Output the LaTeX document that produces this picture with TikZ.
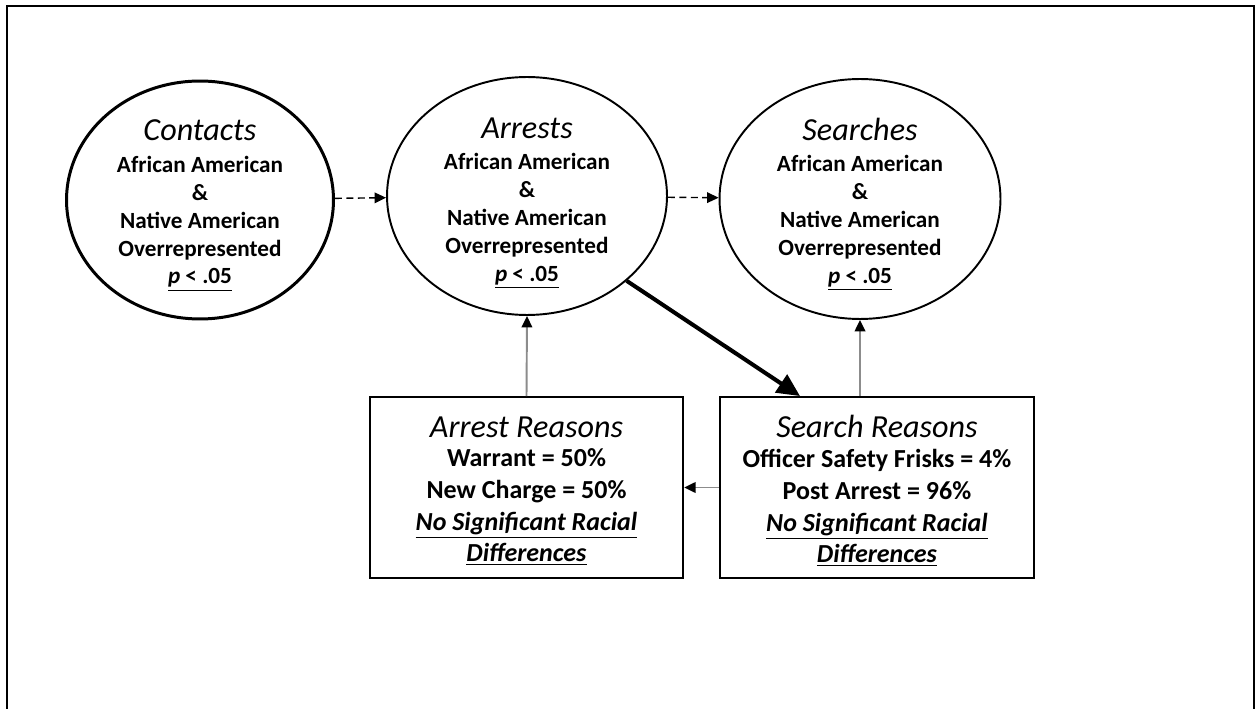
\documentclass[tikz,border=0pt]{standalone}
\usepackage{fontspec}
\setmainfont{Carlito}
\usetikzlibrary{shapes.geometric}
\usetikzlibrary{arrows,arrows.meta}

\newcommand{\stagetitle}[1]{{\fontsize{18.3}{20}\mdseries\itshape\selectfont #1}}
\newcommand{\pval}{\underline{\textit{p} < .05}}

\begin{document}
\begin{tikzpicture}[%
		x=0.02cm, y=-0.02cm,
		>={Triangle[length=6.5pt,width=6pt]},
		stage/.style={draw, ellipse, line width=1.1pt, inner sep=0pt},
		stagetext/.style={align=center, inner sep=0pt, font=\bfseries\fontsize{13.2}{15.9}\selectfont},
		reason/.style={draw, rectangle, line width=1.1pt, inner sep=0pt,
			minimum width=6.27cm, minimum height=3.62cm},
		reasontext/.style={align=center, inner sep=0pt, font=\bfseries\fontsize{14.8}{18}\selectfont},
		flow/.style={->, dash pattern=on 4pt off 2.5pt, line width=0.8pt},
		link/.style={-{Triangle[length=6.5pt,width=6pt,color=black]}, draw=black!45, line width=1.1pt},
		main/.style={-{Triangle[length=13pt,width=12pt]}, line width=2.3pt}
		]

		%% Rahmen
		\useasboundingbox (0,0) rectangle (1257,709);
		\draw [line width=1.2pt] (7,709) -- (7,6) -- (1254,6) -- (1254,709);

		%% Stufen
		\node [stage, line width=1.7pt, minimum width=5.34cm, minimum height=4.76cm] (cont) at (200,200) {};
		\node [stage, minimum width=5.6cm, minimum height=4.76cm] (arr) at (527,196) {};
		\node [stage, minimum width=5.62cm, minimum height=4.8cm] (srch) at (860,199) {};

		\node [stagetext] (cont-txt) at (200,205.5)
			{\stagetitle{Contacts}\\[2pt] African American\\ \&\\ Native American\\ Overrepresented\\ \pval};
		\node [stagetext] (arr-txt) at (527,203)
			{\stagetitle{Arrests}\\[2pt] African American\\ \&\\ Native American\\ Overrepresented\\ \pval};
		\node [stagetext] (srch-txt) at (860,204.5)
			{\stagetitle{Searches}\\[2pt] African American\\ \&\\ Native American\\ Overrepresented\\ \pval};

		%% Gruende
		\node [reason] (arrbox) at (526.5,487.5) {};
		\node [reason, minimum width=6.28cm] (srchbox) at (877,487.5) {};

		\node [reasontext] (arrbox-txt) at (526.5,491)
			{\stagetitle{Arrest Reasons}\\[-1pt] Warrant = 50\%\\ New Charge = 50\%\\
			\underline{\textit{No Significant Racial}}\\ \underline{\textit{Differences}}};
		\node [reasontext] (srchbox-txt) at (877,491)
			{\stagetitle{Search Reasons}\\[-1pt] Officer Safety Frisks = 4\%\\ Post Arrest = 96\%\\
			\underline{\textit{No Significant Racial}}\\ \underline{\textit{Differences}}};

		%% Pfeile
		\draw [flow] (cont) -- (arr);
		\draw [flow] (arr) -- (srch);
		\draw [main] (arr.south east) -- ([xshift=-1.54cm]srchbox.north);
		\draw [link] (arrbox.north) -- (arr.south);
		\draw [link] (srchbox.north -| srch.south) -- (srch.south);
		\draw [link] (srchbox.west) -- (arrbox.east);

	\end{tikzpicture}
\end{document}
